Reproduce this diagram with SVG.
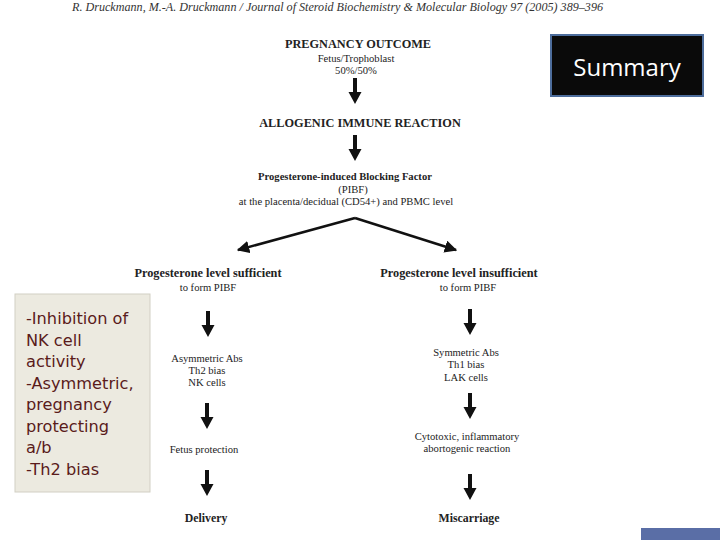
<svg xmlns="http://www.w3.org/2000/svg" width="720" height="540" viewBox="0 0 720 540">
<defs>
<style>
.s{font-family:"Liberation Serif","Times New Roman",serif;fill:#222;text-anchor:middle}
.b{font-weight:bold}
.t{font-size:10.6px}
.h{font-size:12.3px}
.note{font-family:"DejaVu Sans","Open Sans",sans-serif;font-size:16.2px;fill:#5a1b1b}
.conn{stroke:#111;fill:none}
</style>
<marker id="ah" viewBox="0 0 10 10" refX="9" refY="5" markerWidth="5" markerHeight="5" orient="auto" markerUnits="strokeWidth">
<path d="M0,0 L10,5 L0,10 Z" fill="#111"/>
</marker>
<path id="dn" d="M-2,0 H2 V14 H6.5 L0,26 L-6.5,14 H-2 Z" fill="#111"/>
</defs>
<rect width="720" height="540" fill="#fff"/>
<text x="72" y="11" font-family="Liberation Serif,serif" font-style="italic" font-size="11.5" fill="#333" textLength="531" lengthAdjust="spacingAndGlyphs">R. Druckmann, M.-A. Druckmann / Journal of Steroid Biochemistry &amp; Molecular Biology 97 (2005) 389–396</text>

<g id="summary">
<rect x="551" y="35" width="152" height="61" fill="#0a0a0a" stroke="#4d6d9c" stroke-width="2"/>
<text x="627" y="76" font-family="Open Sans,DejaVu Sans,sans-serif" font-size="24" fill="#fff" text-anchor="middle">Summary</text>
</g>

<g id="note">
<rect x="15" y="294" width="135" height="198" fill="#eceae0" stroke="#d2cfc4"/>
<text class="note" x="26" y="324">-Inhibition of</text>
<text class="note" x="26" y="345.5">NK cell</text>
<text class="note" x="26" y="367">activity</text>
<text class="note" x="26" y="388.5">-Asymmetric,</text>
<text class="note" x="26" y="410">pregnancy</text>
<text class="note" x="26" y="431.5">protecting</text>
<text class="note" x="26" y="453">a/b</text>
<text class="note" x="26" y="474.5">-Th2 bias</text>
</g>

<g id="outcome">
<text class="s b h" x="358" y="48">PREGNANCY OUTCOME</text>
<text class="s t" x="356" y="62">Fetus/Trophoblast</text>
<text class="s t" x="356" y="74">50%/50%</text>
</g>
<g id="allogenic">
<text class="s b h" x="360" y="127">ALLOGENIC IMMUNE REACTION</text>
</g>
<g id="pibf">
<text class="s b t" x="345" y="180">Progesterone-induced Blocking Factor</text>
<text class="s t" x="353" y="193">(PIBF)</text>
<text class="s t" x="346" y="205">at the placenta/decidual (CD54+) and PBMC level</text>
</g>
<g id="sufficient">
<text class="s b h" x="208" y="277">Progesterone level sufficient</text>
<text class="s t" x="208" y="291">to form PIBF</text>
</g>
<g id="insufficient">
<text class="s b h" x="459" y="277">Progesterone level insufficient</text>
<text class="s t" x="468" y="291">to form PIBF</text>
</g>
<g id="asym">
<text class="s t" x="207" y="362">Asymmetric Abs</text>
<text class="s t" x="207" y="374">Th2 bias</text>
<text class="s t" x="207" y="386">NK cells</text>
</g>
<g id="sym">
<text class="s t" x="466" y="356">Symmetric Abs</text>
<text class="s t" x="466" y="368">Th1 bias</text>
<text class="s t" x="466" y="381">LAK cells</text>
</g>
<g id="fetus">
<text class="s t" x="204" y="453">Fetus protection</text>
</g>
<g id="cyto">
<text class="s t" x="467" y="440">Cytotoxic, inflammatory</text>
<text class="s t" x="467" y="452">abortogenic reaction</text>
</g>
<g id="delivery">
<text class="s b" x="206" y="522" font-size="11.8">Delivery</text>
</g>
<g id="miscarriage">
<text class="s b" x="469" y="522" font-size="11.8">Miscarriage</text>
</g>

<g id="connectors">
<use href="#dn" x="355" y="78"/>
<use href="#dn" x="355" y="135"/>
<use href="#dn" x="208" y="311"/>
<use href="#dn" x="207" y="403"/>
<use href="#dn" x="207" y="470"/>
<use href="#dn" x="470" y="309"/>
<use href="#dn" x="470" y="393"/>
<use href="#dn" x="470" y="474"/>
<path class="conn" d="M355,218 L238,250" stroke-width="2.5" marker-end="url(#ah)"/>
<path class="conn" d="M355,218 L456,250" stroke-width="2.5" marker-end="url(#ah)"/>
</g>

<rect x="641" y="528" width="79" height="12" fill="#5a6ea6"/>
</svg>
